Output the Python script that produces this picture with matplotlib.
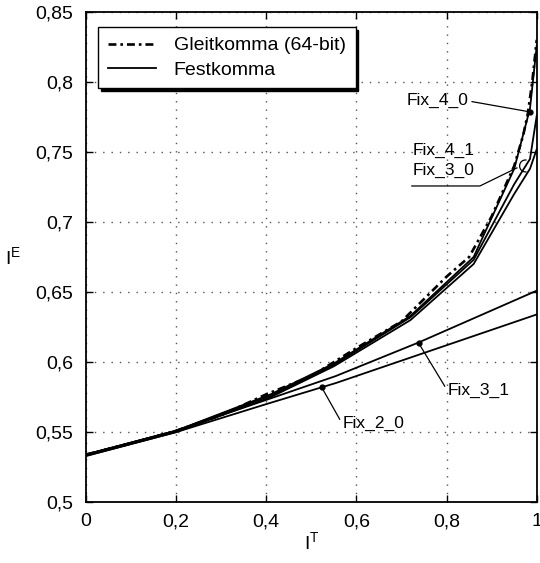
import numpy as np
import matplotlib.pyplot as plt
from matplotlib.patches import Arc

plt.rcParams['font.family'] = ['Liberation Sans', 'DejaVu Sans']

# Gleitkomma reference curve
float_x = [0, 0.1, 0.2, 0.3, 0.4, 0.5, 0.6, 0.7, 0.8, 0.85, 0.9, 0.95, 0.97, 0.98, 0.99, 1.0]
float_y = [0.534, 0.542, 0.551, 0.562, 0.577, 0.590, 0.610, 0.629, 0.661, 0.675, 0.704,
           0.740, 0.762, 0.777, 0.800, 0.830]

# Festkomma variants (piecewise linear)
fix_x = [0, 0.2, 0.41, 0.55, 0.72, 0.86, 0.95, 0.985, 1.0]
fix_4_0 = [0.534, 0.551, 0.577, 0.599, 0.633, 0.675, 0.738, 0.781, 0.826]
fix_4_1 = [0.534, 0.551, 0.576, 0.598, 0.632, 0.673, 0.727, 0.745, 0.776]
fix_3_0 = [0.533, 0.550, 0.575, 0.597, 0.630, 0.670, 0.720, 0.738, 0.752]

lin_x = [0, 0.2, 0.4, 0.554, 0.738, 1.0]
fix_3_1 = [0.534, 0.551, 0.573, 0.590, 0.614, 0.651]
lin2_x = [0, 0.2, 0.4, 0.523, 0.554, 1.0]
fix_2_0 = [0.533, 0.550, 0.570, 0.582, 0.585, 0.634]

xticks = [0, 0.2, 0.4, 0.6, 0.8, 1.0]
xlabels = ["0", "0,2", "0,4", "0,6", "0,8", "1"]
yticks = [0.5, 0.55, 0.6, 0.65, 0.7, 0.75, 0.8, 0.85]
ylabels = ["0,5", "0,55", "0,6", "0,65", "0,7", "0,75", "0,8", "0,85"]

fig = plt.figure(figsize=(5.4, 5.63), dpi=100)
ax = fig.add_axes([0.159, 0.108, 0.835, 0.871])

ax.plot(float_x, float_y, color='k', lw=1.9, ls=(0, (3, 1.5, 1, 1.5)),
        label='Gleitkomma (64-bit)', zorder=4)
ax.plot(fix_x, fix_4_0, color='k', lw=1.3, label='Festkomma')
ax.plot(fix_x, fix_4_1, color='k', lw=1.3)
ax.plot(fix_x, fix_3_0, color='k', lw=1.3)
ax.plot(lin_x, fix_3_1, color='k', lw=1.3)
ax.plot(lin2_x, fix_2_0, color='k', lw=1.3)

ax.set_xlim(0, 1)
ax.set_ylim(0.5, 0.85)
ax.set_xticks(xticks)
ax.set_xticklabels(xlabels)
ax.set_yticks(yticks)
ax.set_yticklabels(ylabels)
ax.tick_params(direction='in', top=True, right=True, labelsize=14, length=5, width=1)
ax.tick_params(axis='y', pad=9)
ax.tick_params(axis='x', pad=8)
ax.grid(True, color='#555555', ls=(0, (1, 5)), lw=1)
for s in ax.spines.values():
    s.set_linewidth(1.3)

ax.set_xlabel(r'$\mathregular{I^T}$', fontsize=14, labelpad=1)
ax.set_ylabel(r'$\mathregular{I^E}$', fontsize=14, rotation=0, labelpad=16, va='center')

leg = ax.legend(loc='upper left', bbox_to_anchor=(0.027, 0.969), borderaxespad=0,
                fontsize=14, fancybox=False, edgecolor='k', framealpha=1,
                shadow={'color': 'k', 'alpha': 1}, handlelength=2.5,
                handletextpad=0.9, borderpad=0.5, labelspacing=0.35)
leg.get_frame().set_linewidth(1.0)

arrow = dict(arrowstyle='-', color='k', lw=0.9, shrinkA=0, shrinkB=0)

# Fix_4_0
ax.plot([0.9845], [0.7786], 'ko', ms=3.5, zorder=5)
ax.annotate('Fix_4_0', xy=(0.9845, 0.7786), xytext=(0.712, 0.787), fontsize=12.5,
            va='center', ha='left', arrowprops=dict(arrow, relpos=(1.05, 0.4)))

# Fix_4_1 / Fix_3_0
ax.text(0.725, 0.7514, 'Fix_4_1', fontsize=12.5, va='center', ha='left')
ax.text(0.725, 0.7371, 'Fix_3_0', fontsize=12.5, va='center', ha='left')
ax.plot([0.723, 0.874, 0.956], [0.7257, 0.7257, 0.7386], color='k', lw=0.9)
ax.add_patch(Arc((0.975, 0.740), 0.026, 0.0085, theta1=60, theta2=300, color='k', lw=0.9))

# Fix_3_1
ax.plot([0.738], [0.6136], 'ko', ms=3.5, zorder=5)
ax.annotate('Fix_3_1', xy=(0.738, 0.6136), xytext=(0.803, 0.580), fontsize=12.5,
            va='center', ha='left', arrowprops=dict(arrow, relpos=(-0.05, 0.75)))

# Fix_2_0
ax.plot([0.523], [0.582], 'ko', ms=3.5, zorder=5)
ax.annotate('Fix_2_0', xy=(0.523, 0.582), xytext=(0.57, 0.5564), fontsize=12.5,
            va='center', ha='left', arrowprops=dict(arrow, relpos=(-0.05, 0.75)))

fig.savefig('out.png', dpi=100)
